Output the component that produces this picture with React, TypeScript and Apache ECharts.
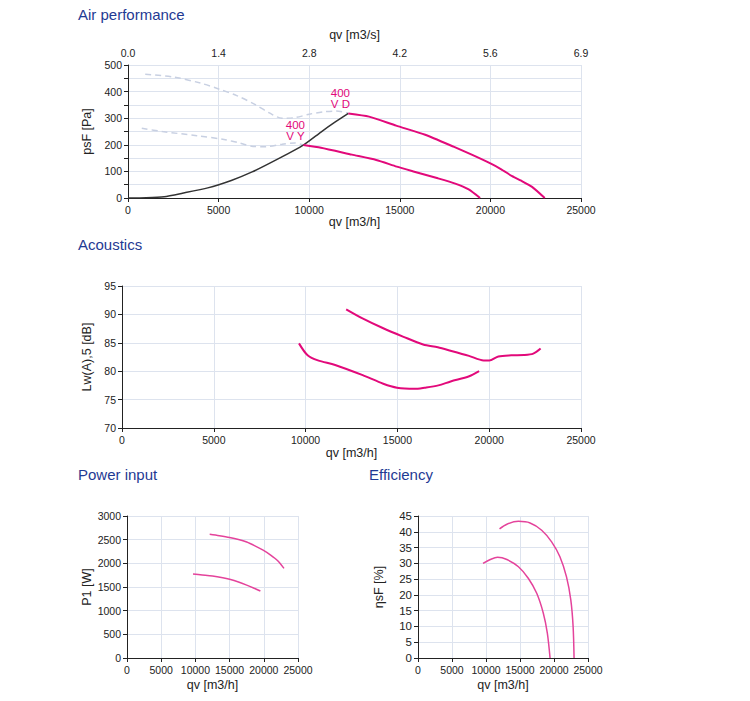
import React, { useEffect, useRef } from "react";
import * as echarts from "echarts";

// ---------- Data ----------
// Air performance (qv in m3/h, psF in Pa)
const SYS_Q = [0, 1000, 2000, 3000, 4400, 5700, 6850, 8360, 9680, 10650, 11400, 12160];
const SYS_P = [0, 1, 5, 18, 38, 66, 98, 150, 199, 248, 284, 318];

const DASH_D_Q = [950, 2500, 4000, 5000, 6000, 7000, 7800, 8500, 9200, 10000, 10800, 11500, 12160];
const DASH_D_P = [465, 455, 432, 410, 385, 352, 320, 300, 302, 315, 324, 327, 318];

const DASH_Y_Q = [760, 1900, 3800, 5300, 6200, 6900, 7600, 8500, 9200, 9680];
const DASH_Y_P = [262, 250, 234, 220, 206, 194, 193, 202, 207, 199];

const VD_Q = [12160, 13300, 14800, 16400, 18000, 19000, 20000, 20600, 21200, 21700, 22300, 23000];
const VD_P = [318, 306, 272, 238, 192, 162, 130, 108, 82, 65, 42, 0];

const VY_Q = [9680, 10650, 12360, 13700, 14830, 15800, 17100, 18060, 18800, 19430];
const VY_P = [199, 189, 163, 143, 118, 99, 74, 54, 32, 0];

// Acoustics (Lw(A),5 in dB)
const AC_D_Q = [12210, 13100, 14200, 15300, 16400, 17200, 17900, 18900, 19700, 20000, 20500, 21200, 21900, 22400, 22800];
const AC_D_L = [90.9, 89.3, 87.6, 86.1, 84.7, 84.2, 83.6, 82.7, 81.9, 81.9, 82.6, 82.8, 82.85, 83.1, 84.0];

const AC_Y_Q = [9640, 10110, 10670, 11610, 13110, 14230, 14980, 15920, 16480, 17230, 17900, 18910, 19450];
const AC_Y_L = [84.9, 82.8, 81.9, 81.1, 79.3, 77.8, 77.1, 76.9, 77.1, 77.5, 78.2, 79.1, 80.0];

// Power input (P1 in W)
const PW_D_Q = [12090, 13500, 15000, 16300, 17500, 18700, 19900, 21000, 22000, 22950];
const PW_D_P = [2615, 2585, 2548, 2505, 2450, 2370, 2278, 2175, 2060, 1893];

const PW_Y_Q = [9650, 11000, 12500, 14000, 15000, 16300, 17500, 18500, 19500];
const PW_Y_P = [1775, 1755, 1732, 1695, 1662, 1605, 1540, 1480, 1416];

// Efficiency (etasF in %)
const EF_D_Q = [11990, 13070, 14770, 16480, 18190, 19650, 20870, 21840, 22470, 22810, 22950];
const EF_D_E = [40.9, 42.4, 43.3, 42.8, 40.5, 36.8, 32.1, 25.7, 18.4, 10.0, 0];

const EF_Y_Q = [9560, 10630, 11700, 13070, 14770, 16240, 17460, 18430, 19020, 19420];
const EF_Y_E = [30.0, 31.2, 31.9, 31.2, 28.9, 25.2, 20.5, 14.2, 7.9, 0];

// Tick labels of the secondary (m3/s) axis
const TOP_TICKS = ["0.0", "1.4", "2.8", "4.2", "5.6", "6.9"];

const TITLES = ["Air performance", "Acoustics", "Power input", "Efficiency"];
const CURVE_LABELS = ["400\nV D", "400\nV Y"];

// ---------- Helpers ----------
const zip = (a: number[], b: number[]) => a.map((v, i) => [v, b[i]]);

const FONT = "'Liberation Sans', Arial, sans-serif";
const GRID_C = "#dde3ee";
const AXIS_C = "#222";
const PINK = "#e2097a";
const PINK2 = "#e4439b";
const TITLE_C = "#1f3a93";

const plain = (v: number) => String(v);

function xAxisBottom(gridIndex: number, nameGap: number) {
  return {
    type: "value",
    gridIndex,
    position: "bottom",
    min: 0,
    max: 25000,
    interval: 5000,
    name: "qv [m3/h]",
    nameLocation: "middle",
    nameGap,
    nameTextStyle: { fontSize: 12.5, color: AXIS_C, fontFamily: FONT },
    axisLine: { show: true, onZero: false, lineStyle: { color: AXIS_C, width: 1 } },
    axisTick: { show: true, length: 4, lineStyle: { color: AXIS_C } },
    axisLabel: { fontSize: 10.5, color: AXIS_C, margin: 6, fontFamily: FONT, formatter: plain },
    splitLine: { show: true, lineStyle: { color: GRID_C, width: 1 } },
  };
}

function yAxis(gridIndex: number, min: number, max: number, interval: number, name: string, nameGap: number, fontSize = 10.5, minor = false) {
  return {
    type: "value",
    gridIndex,
    min,
    max,
    interval,
    name,
    nameLocation: "middle",
    nameRotate: 90,
    nameGap,
    nameTextStyle: { fontSize: 12.5, color: AXIS_C, fontFamily: FONT },
    axisLine: { show: true, lineStyle: { color: AXIS_C, width: 1 } },
    axisTick: { show: true, length: 4, lineStyle: { color: AXIS_C } },
    minorTick: { show: minor, splitNumber: 2, length: 4, lineStyle: { color: AXIS_C } },
    minorSplitLine: { show: minor, lineStyle: { color: GRID_C, width: 1 } },
    axisLabel: { fontSize, color: AXIS_C, margin: 6, fontFamily: FONT, formatter: plain },
    splitLine: { show: true, lineStyle: { color: GRID_C, width: 1 } },
  };
}

function line(xAxisIndex: number, yAxisIndex: number, data: number[][], color: string, width: number, dashed = false, smooth: number | boolean = 0.3) {
  return {
    type: "line",
    xAxisIndex,
    yAxisIndex,
    data,
    showSymbol: false,
    symbol: "none",
    smooth,
    silent: true,
    lineStyle: { color, width, type: dashed ? [6, 4] : "solid" },
    z: dashed ? 2 : 3,
  };
}

function curveLabel(q: number, p: number, text: string) {
  return {
    silent: true,
    data: [
      {
        coord: [q, p],
        symbol: "circle",
        symbolSize: 0,
        label: {
          show: true,
          position: "top",
          distance: 4,
          offset: [-8, 0],
          formatter: text,
          color: PINK,
          fontSize: 11.5,
          lineHeight: 11,
          fontFamily: FONT,
          align: "center",
        },
      },
    ],
  };
}

export default function App() {
  const ref = useRef<HTMLDivElement>(null);

  useEffect(() => {
    if (!ref.current) return;
    const chart = echarts.init(ref.current, undefined, { renderer: "svg" });

    const titleStyle = { fontSize: 15, fontWeight: "normal", color: TITLE_C, fontFamily: FONT };

    const vdSeries: any = line(0, 0, zip(VD_Q, VD_P), PINK, 2, false, 0.2);
    vdSeries.markPoint = curveLabel(VD_Q[0], VD_P[0], CURVE_LABELS[0]);
    const vySeries: any = line(0, 0, zip(VY_Q, VY_P), PINK, 2, false, 0.2);
    vySeries.markPoint = curveLabel(VY_Q[0], VY_P[0], CURVE_LABELS[1]);

    chart.setOption({
      animation: false,
      textStyle: { fontFamily: FONT },
      title: [
        { text: TITLES[0], left: 78, top: 7, padding: 0, textStyle: titleStyle },
        { text: TITLES[1], left: 78, top: 237, padding: 0, textStyle: titleStyle },
        { text: TITLES[2], left: 78, top: 467, padding: 0, textStyle: titleStyle },
        { text: TITLES[3], left: 369, top: 467, padding: 0, textStyle: titleStyle },
      ],
      grid: [
        { left: 128, top: 65, width: 453, height: 133 },
        { left: 122, top: 286, width: 459, height: 142 },
        { left: 127, top: 516, width: 171, height: 142 },
        { left: 418, top: 516, width: 170, height: 142 },
      ],
      xAxis: [
        xAxisBottom(0, 17),
        xAxisBottom(1, 18),
        xAxisBottom(2, 20),
        xAxisBottom(3, 20),
        {
          type: "value",
          gridIndex: 0,
          position: "top",
          min: 0,
          max: 25000,
          interval: 5000,
          name: "qv [m3/s]",
          nameLocation: "middle",
          nameGap: 24,
          nameTextStyle: { fontSize: 12.5, color: AXIS_C, fontFamily: FONT },
          axisLine: { show: false },
          axisTick: { show: false },
          splitLine: { show: false },
          axisLabel: {
            fontSize: 10.5,
            color: AXIS_C,
            margin: 7,
            fontFamily: FONT,
            formatter: (v: number) => TOP_TICKS[Math.round(v / 5000)] ?? "",
          },
        },
      ],
      yAxis: [
        yAxis(0, 0, 500, 100, "psF [Pa]", 31, 10.5, true),
        yAxis(1, 70, 95, 5, "Lw(A),5 [dB]", 27, 10.5),
        yAxis(2, 0, 3000, 500, "P1 [W]", 32, 10.5),
        yAxis(3, 0, 45, 5, "ηsF [%]", 33, 11.5),
      ],
      series: [
        line(0, 0, zip(DASH_D_Q, DASH_D_P), "#c8d0e2", 1.5, true),
        line(0, 0, zip(DASH_Y_Q, DASH_Y_P), "#c8d0e2", 1.5, true),
        line(0, 0, zip(SYS_Q, SYS_P), "#333333", 1.5, false, 0.2),
        vdSeries,
        vySeries,
        line(1, 1, zip(AC_D_Q, AC_D_L), PINK, 2),
        line(1, 1, zip(AC_Y_Q, AC_Y_L), PINK, 2),
        line(2, 2, zip(PW_D_Q, PW_D_P), PINK2, 1.5),
        line(2, 2, zip(PW_Y_Q, PW_Y_P), PINK2, 1.5),
        line(3, 3, zip(EF_D_Q, EF_D_E), PINK2, 1.5),
        line(3, 3, zip(EF_Y_Q, EF_Y_E), PINK2, 1.5),
      ],
    });

    return () => chart.dispose();
  }, []);

  return (
    <div
      ref={ref}
      style={{ position: "fixed", left: 0, top: 0, width: 750, height: 701, background: "#fff" }}
    />
  );
}
